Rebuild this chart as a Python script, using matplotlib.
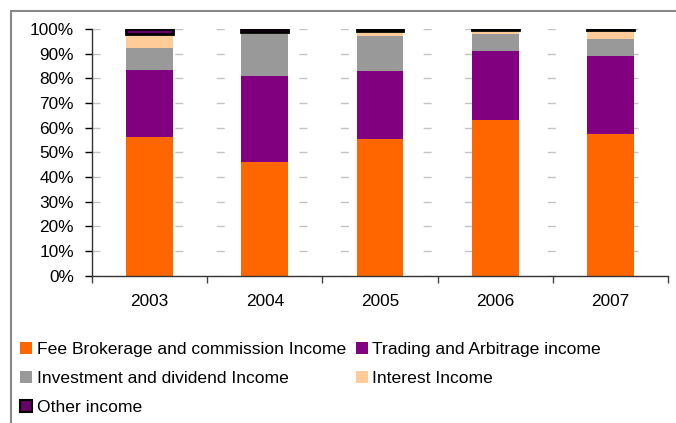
import numpy as np
import matplotlib.pyplot as plt
from matplotlib.lines import Line2D
from matplotlib.patches import Patch

plt.rcParams['font.family'] = ['Liberation Sans', 'DejaVu Sans']

# Data (share of total income, %)
years = ["2003", "2004", "2005", "2006", "2007"]
fee_brokerage = [56.1, 46.0, 55.4, 63.1, 57.4]
trading = [27.3, 34.9, 27.6, 28.1, 31.6]
investment = [8.9, 16.9, 14.0, 6.8, 6.9]
interest = [5.7, 1.0, 2.0, 1.6, 3.7]
other = [2.0, 1.2, 1.0, 0.4, 0.4]

series_names = ["Fee Brokerage and commission Income", "Trading and Arbitrage income",
                "Investment and dividend Income", "Interest Income", "Other income"]
colors = ["#FF6600", "#800080", "#999999", "#FFCC99", "#660066"]

W, H = 676, 423
fig = plt.figure(figsize=(W / 100, H / 100), dpi=100)
ax = fig.add_axes([92 / W, 1 - 275.5 / H, 576 / W, 246.5 / H])

x = np.arange(len(years))
bottom = np.zeros(len(years))
handles = []
for vals, name, col in zip([fee_brokerage, trading, investment, interest, other], series_names, colors):
    if name == "Other income":
        ax.bar(x, vals, 0.405, bottom=bottom, color=col, edgecolor="black", linewidth=2.0, zorder=3)
        handles.append(Patch(facecolor=col, edgecolor="black", linewidth=1.5, label=name))
    else:
        ax.bar(x, vals, 0.405, bottom=bottom, color=col, linewidth=0, zorder=2)
        handles.append(Patch(facecolor=col, edgecolor="none", label=name))
    bottom += np.array(vals)

ax.set_xlim(-0.5, len(years) - 0.5)
ax.set_ylim(0, 100)

# Y axis
ax.set_yticks(np.arange(0, 101, 10))
ax.set_yticklabels([f"{v}%" for v in range(0, 101, 10)])
ax.tick_params(axis="y", direction="out", length=5, width=1, pad=8, labelsize=12.4, colors="black")

# X axis: ticks between categories, labels at the centres
ax.set_xticks(x)
ax.set_xticklabels(years)
ax.set_xticks(np.arange(-0.5, len(years)), minor=True)
ax.tick_params(axis="x", which="major", length=0, pad=13, labelsize=12.4)
ax.tick_params(axis="x", which="minor", direction="out", length=5, width=1, color="#444444")

# Dashed grid (Excel style)
ax.set_axisbelow(True)
ax.yaxis.grid(True, color="#c4c4c4", linewidth=1.0, linestyle=(0, (5.8, 24)))

for s in ["top", "right"]:
    ax.spines[s].set_visible(False)
for s in ["left", "bottom"]:
    ax.spines[s].set_color("#333333")
    ax.spines[s].set_linewidth(1.0)

# Legend in row-major order
order = [0, 2, 4, 1, 3]
fig.legend([handles[i] for i in order], [series_names[i] for i in order],
           loc="upper left", bbox_to_anchor=(20 / W, 1 - 342 / H), ncol=2,
           frameon=False, fontsize=12.6, handlelength=0.7, handleheight=0.7,
           handletextpad=0.25, columnspacing=0.55, labelspacing=0.78,
           borderpad=0, borderaxespad=0)

# Chart area frame (only top and left visible in the crop)
frame = dict(color="#888888", linewidth=1.5, transform=fig.transFigure)
fig.add_artist(Line2D([11 / W, 1.0], [1 - 11 / H, 1 - 11 / H], **frame))
fig.add_artist(Line2D([11 / W, 11 / W], [1 - 11 / H, 0], **frame))

fig.savefig("out.png", dpi=100)
